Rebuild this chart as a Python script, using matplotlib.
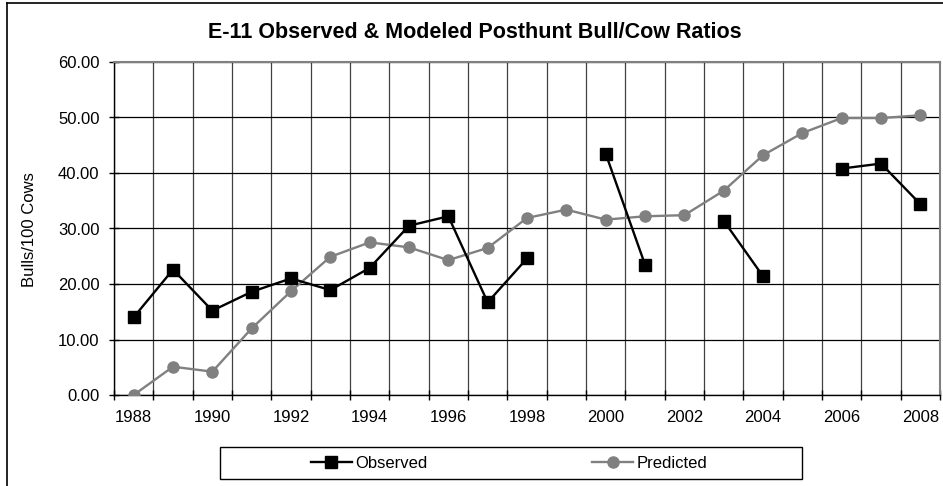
import numpy as np
import matplotlib.pyplot as plt
from matplotlib.patches import Rectangle
from matplotlib.ticker import FixedLocator, FuncFormatter

plt.rcParams["font.family"] = ["Liberation Sans", "DejaVu Sans"]

years = list(range(1988, 2009))
observed = [14.0, 22.6, 15.2, 18.6, 21.0, 18.9, 22.9, 30.5, 32.2, 16.7, 24.6,
            None, 43.5, 23.5, None, 31.4, 21.4, None, 40.8, 41.7, 34.4]
predicted = [0.0, 5.1, 4.2, 12.0, 18.7, 24.9, 27.5, 26.6, 24.3, 26.5, 31.9,
             33.4, 31.6, 32.2, 32.4, 36.8, 43.2, 47.2, 49.9, 49.9, 50.4]

W, H = 943, 486
fig = plt.figure(figsize=(W / 100, H / 100), dpi=100, facecolor="white")
ax = fig.add_axes([114 / W, 1 - 395 / H, (940 - 114) / W, (395 - 62) / H])

x = np.arange(len(years))
obs = np.array([np.nan if v is None else v for v in observed], dtype=float)
pred = np.array(predicted, dtype=float)

ax.plot(x, pred, color="#808080", lw=1.7, marker="o", ms=8,
        mfc="#808080", mec="#808080", label="Predicted", zorder=3)
ax.plot(x, obs, color="black", lw=1.7, marker="s", ms=8,
        mfc="black", mec="black", label="Observed", zorder=4)

ax.set_xlim(-0.5, len(years) - 0.5)
ax.set_ylim(0, 60)

# x: labels on even years at category centres, ticks/grid at boundaries
ax.xaxis.set_major_locator(FixedLocator(x[::2]))
ax.set_xticklabels([str(y) for y in years[::2]])
ax.xaxis.set_minor_locator(FixedLocator(np.arange(-0.5, len(years), 1.0)))
ax.tick_params(axis="x", which="major", length=0, pad=10.5, labelsize=12)
ax.tick_params(axis="x", which="minor", direction="inout", length=7, width=1, color="black")
ax.grid(True, axis="x", which="minor", color="#404040", lw=0.9)

ax.yaxis.set_major_locator(FixedLocator(np.arange(0, 61, 10)))
ax.yaxis.set_major_formatter(FuncFormatter(lambda v, p: f"{v:.2f}"))
ax.tick_params(axis="y", direction="inout", length=7, width=1, labelsize=12, pad=7)
ax.grid(True, axis="y", which="major", color="black", lw=0.9)
ax.set_axisbelow(True)

for side in ("top", "right"):
    ax.spines[side].set_color("#808080")
    ax.spines[side].set_linewidth(1.5)
for side in ("left", "bottom"):
    ax.spines[side].set_color("black")
    ax.spines[side].set_linewidth(1.0)

ax.set_ylabel("Bulls/100 Cows", fontsize=12)
ax.yaxis.set_label_coords(-(114 - 37) / (940 - 114), (395 - 230) / (395 - 62))

fig.text(208 / W, 1 - 33 / H, "E-11 Observed & Modeled Posthunt Bull/Cow Ratios",
         ha="left", va="center", fontsize=15.5, fontweight="bold")

# outer chart frame (left and top visible in crop)
fig.add_artist(plt.Line2D([7 / W, 7 / W], [0, 1 - 3 / H], transform=fig.transFigure,
                          color="black", lw=1.2))
fig.add_artist(plt.Line2D([7 / W, 1], [1 - 3 / H, 1 - 3 / H], transform=fig.transFigure,
                          color="black", lw=1.2))

# legend box and entries
fig.add_artist(Rectangle((220 / W, 1 - 479 / H), (802 - 220) / W, (479 - 447) / H,
                         transform=fig.transFigure, fill=False, edgecolor="black", lw=1.0))
handles, labels = ax.get_legend_handles_labels()
leg = fig.legend(handles[::-1], labels[::-1], ncol=2, loc="center",
                 bbox_to_anchor=(509 / W, 1 - 463 / H), frameon=False, fontsize=12,
                 handlelength=2.45, handletextpad=0.2, columnspacing=9.9,
                 borderpad=0.0)

fig.savefig("out.png", dpi=100, facecolor="white")
